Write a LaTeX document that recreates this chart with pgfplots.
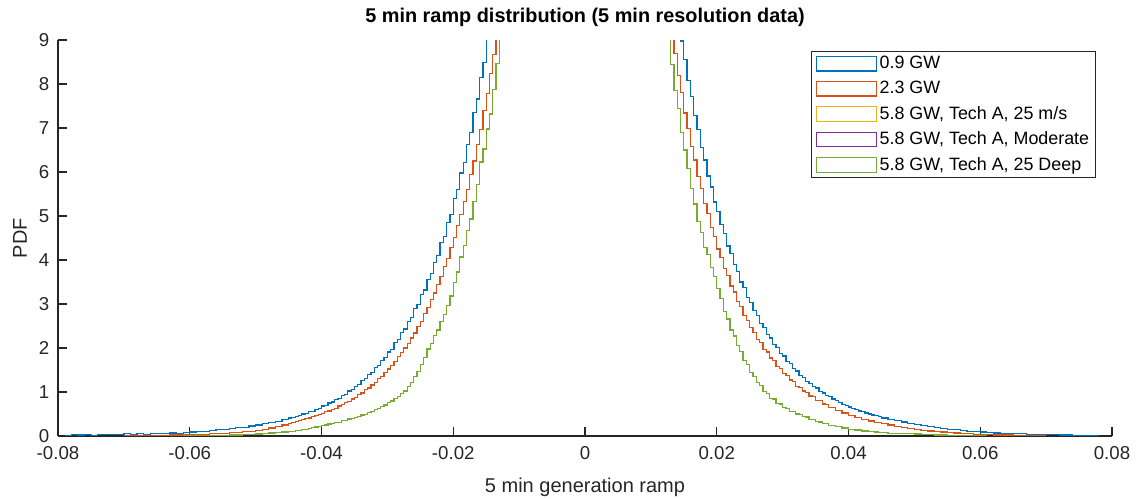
\documentclass[border=0pt]{standalone}
\usepackage{fontspec}
\setmainfont{Liberation Sans}
\usepackage{pgfplots}
\pgfplotsset{compat=1.18}
\usepackage{pgfplotstable}
\definecolor{mblue}{rgb}{0,0.447,0.741}
\definecolor{morange}{rgb}{0.85,0.325,0.098}
\definecolor{myellow}{rgb}{0.929,0.694,0.125}
\definecolor{mpurple}{rgb}{0.494,0.184,0.556}
\definecolor{mgreen}{rgb}{0.466,0.674,0.188}
\definecolor{axgray}{rgb}{0.15,0.15,0.15}

% 0.9 GW, left half (const plot mark left)
\pgfplotstableread[row sep=\\]{x y\\
-0.079 0\\ -0.078 0.03\\ -0.077 0.02\\ -0.076 0.03\\ -0.075 0\\ -0.074 0.04\\ -0.073 0.03\\ -0.072 0.04\\ -0.071 0.03\\ -0.070 0.05\\
-0.069 0.04\\ -0.068 0.05\\ -0.067 0.04\\ -0.066 0.06\\ -0.065 0.05\\ -0.064 0.06\\ -0.063 0.07\\ -0.062 0.06\\ -0.061 0.08\\ -0.060 0.09\\
-0.059 0.10\\ -0.058 0.11\\ -0.057 0.12\\ -0.056 0.14\\ -0.055 0.15\\ -0.054 0.17\\ -0.053 0.19\\ -0.052 0.20\\ -0.051 0.23\\ -0.050 0.25\\
-0.049 0.28\\ -0.048 0.30\\ -0.047 0.33\\ -0.046 0.37\\
-0.0450 0.41\\ -0.0445 0.42\\ -0.0440 0.45\\ -0.0435 0.46\\ -0.0430 0.50\\ -0.0425 0.51\\ -0.0420 0.55\\ -0.0415 0.56\\ -0.0410 0.61\\ -0.0405 0.62\\
-0.0400 0.68\\ -0.0395 0.69\\ -0.0390 0.75\\ -0.0385 0.77\\ -0.0380 0.83\\ -0.0375 0.86\\ -0.0370 0.92\\ -0.0365 0.95\\ -0.0360 1.02\\ -0.0355 1.06\\
-0.0350 1.13\\ -0.0345 1.17\\ -0.0340 1.26\\ -0.0335 1.30\\ -0.0330 1.39\\ -0.0325 1.45\\ -0.0320 1.55\\ -0.0315 1.61\\ -0.0310 1.72\\ -0.0305 1.78\\
-0.0300 1.91\\ -0.0295 1.97\\ -0.0290 2.12\\ -0.0285 2.19\\ -0.0280 2.35\\ -0.0275 2.43\\ -0.0270 2.60\\ -0.0265 2.70\\ -0.0260 2.90\\ -0.0255 2.99\\
-0.0250 3.21\\ -0.0245 3.32\\ -0.0240 3.56\\ -0.0235 3.69\\ -0.0230 3.95\\ -0.0225 4.10\\ -0.0220 4.39\\ -0.0215 4.54\\ -0.0210 4.86\\ -0.0205 5.04\\
-0.0200 5.39\\ -0.0195 5.60\\ -0.0190 5.98\\ -0.0185 6.21\\ -0.0180 6.63\\ -0.0175 6.90\\ -0.0170 7.35\\ -0.0165 7.66\\ -0.0160 8.15\\ -0.0155 8.49\\
-0.0150 9.05\\ -0.0145 9.45\\ -0.0140 10.0\\ -0.0135 10.5\\ -0.0130 11.1\\ -0.0125 11.7\\ -0.0120 12.5\\ -0.0100 16\\ -0.0050 30\\ 0 50\\
}\bL
% 0.9 GW, right half (const plot mark right)
\pgfplotstableread[row sep=\\]{x y\\
0 50\\ 0.0050 30\\ 0.0100 16\\ 0.0120 12.5\\ 0.0125 11.7\\ 0.0130 11.1\\ 0.0135 10.5\\ 0.0140 9.95\\ 0.0145 9.5\\
0.0150 8.98\\ 0.0155 8.56\\ 0.0160 8.08\\ 0.0165 7.72\\ 0.0170 7.28\\ 0.0175 6.96\\ 0.0180 6.56\\ 0.0185 6.27\\ 0.0190 5.91\\ 0.0195 5.66\\
0.0200 5.32\\ 0.0205 5.10\\ 0.0210 4.80\\ 0.0215 4.60\\ 0.0220 4.32\\ 0.0225 4.15\\ 0.0230 3.89\\ 0.0235 3.74\\ 0.0240 3.50\\ 0.0245 3.37\\
0.0250 3.15\\ 0.0255 3.04\\ 0.0260 2.85\\ 0.0265 2.74\\ 0.0270 2.56\\ 0.0275 2.47\\ 0.0280 2.31\\ 0.0285 2.23\\ 0.0290 2.08\\ 0.0295 2.01\\
0.0300 1.88\\ 0.0305 1.82\\ 0.0310 1.69\\ 0.0315 1.64\\ 0.0320 1.53\\ 0.0325 1.48\\ 0.0330 1.38\\ 0.0335 1.33\\ 0.0340 1.24\\ 0.0345 1.20\\
0.0350 1.12\\ 0.0355 1.09\\ 0.0360 1.01\\ 0.0365 0.98\\ 0.0370 0.92\\ 0.0375 0.89\\ 0.0380 0.84\\ 0.0385 0.80\\ 0.0390 0.76\\ 0.0395 0.72\\
0.0400 0.69\\ 0.0405 0.66\\ 0.0410 0.63\\ 0.0415 0.60\\ 0.0420 0.57\\ 0.0425 0.55\\ 0.0430 0.52\\ 0.0435 0.50\\ 0.0440 0.48\\ 0.0445 0.46\\
0.0450 0.44\\ 0.046 0.41\\ 0.047 0.38\\ 0.048 0.35\\ 0.049 0.32\\ 0.050 0.29\\ 0.051 0.26\\ 0.052 0.24\\ 0.053 0.21\\ 0.054 0.19\\
0.055 0.17\\ 0.056 0.15\\ 0.057 0.14\\ 0.058 0.12\\ 0.059 0.11\\ 0.060 0.10\\ 0.061 0.09\\ 0.062 0.08\\ 0.063 0.07\\ 0.064 0.065\\
0.065 0.06\\ 0.066 0.05\\ 0.067 0.05\\ 0.068 0.04\\ 0.069 0.04\\ 0.070 0.035\\ 0.071 0.03\\ 0.072 0.03\\ 0.073 0.02\\ 0.074 0.02\\
0.075 0.01\\ 0.076 0\\ 0.077 0.01\\ 0.078 0\\
}\bR
% 2.3 GW, left half
\pgfplotstableread[row sep=\\]{x y\\
-0.070 0\\ -0.069 0.005\\ -0.068 0.005\\ -0.067 0.01\\ -0.066 0.01\\ -0.065 0.015\\ -0.064 0.015\\ -0.063 0.02\\ -0.062 0.02\\ -0.061 0.025\\
-0.060 0.03\\ -0.059 0.035\\ -0.058 0.04\\ -0.057 0.05\\ -0.056 0.055\\ -0.055 0.065\\ -0.054 0.075\\ -0.053 0.085\\ -0.052 0.10\\ -0.051 0.11\\
-0.050 0.13\\ -0.049 0.15\\ -0.048 0.18\\ -0.047 0.21\\ -0.046 0.25\\
-0.0450 0.29\\ -0.0445 0.31\\ -0.0440 0.33\\ -0.0435 0.36\\ -0.0430 0.37\\ -0.0425 0.40\\ -0.0420 0.41\\ -0.0415 0.44\\ -0.0410 0.46\\ -0.0405 0.49\\
-0.0400 0.51\\ -0.0395 0.55\\ -0.0390 0.57\\ -0.0385 0.61\\ -0.0380 0.63\\ -0.0375 0.68\\ -0.0370 0.71\\ -0.0365 0.76\\ -0.0360 0.79\\ -0.0355 0.84\\
-0.0350 0.88\\ -0.0345 0.94\\ -0.0340 0.98\\ -0.0335 1.05\\ -0.0330 1.09\\ -0.0325 1.16\\ -0.0320 1.22\\ -0.0315 1.30\\ -0.0310 1.36\\ -0.0305 1.45\\
-0.0300 1.52\\ -0.0295 1.61\\ -0.0290 1.69\\ -0.0285 1.80\\ -0.0280 1.89\\ -0.0275 2.00\\ -0.0270 2.10\\ -0.0265 2.23\\ -0.0260 2.34\\ -0.0255 2.49\\
-0.0250 2.61\\ -0.0245 2.78\\ -0.0240 2.92\\ -0.0235 3.10\\ -0.0230 3.25\\ -0.0225 3.45\\ -0.0220 3.63\\ -0.0215 3.85\\ -0.0210 4.04\\ -0.0205 4.29\\
-0.0200 4.51\\ -0.0195 4.78\\ -0.0190 5.03\\ -0.0185 5.33\\ -0.0180 5.61\\ -0.0175 5.94\\ -0.0170 6.25\\ -0.0165 6.62\\ -0.0160 6.97\\ -0.0155 7.39\\
-0.0150 7.78\\ -0.0145 8.24\\ -0.0140 8.67\\ -0.0135 9.2\\ -0.0130 9.7\\ -0.0125 10.2\\ -0.0120 11\\ -0.0100 14\\ -0.0050 28\\ 0 45\\
}\oL
% 2.3 GW, right half
\pgfplotstableread[row sep=\\]{x y\\
0 45\\ 0.0050 28\\ 0.0100 14\\ 0.0120 11\\ 0.0125 10.2\\ 0.0130 9.7\\ 0.0135 9.15\\ 0.0140 8.69\\ 0.0145 8.19\\
0.0150 7.80\\ 0.0155 7.34\\ 0.0160 6.99\\ 0.0165 6.58\\ 0.0170 6.27\\ 0.0175 5.90\\ 0.0180 5.63\\ 0.0185 5.29\\ 0.0190 5.05\\ 0.0195 4.74\\
0.0200 4.53\\ 0.0205 4.25\\ 0.0210 4.06\\ 0.0215 3.81\\ 0.0220 3.65\\ 0.0225 3.41\\ 0.0230 3.27\\ 0.0235 3.06\\ 0.0240 2.94\\ 0.0245 2.74\\
0.0250 2.63\\ 0.0255 2.46\\ 0.0260 2.36\\ 0.0265 2.20\\ 0.0270 2.12\\ 0.0275 1.97\\ 0.0280 1.91\\ 0.0285 1.77\\ 0.0290 1.71\\ 0.0295 1.58\\
0.0300 1.54\\ 0.0305 1.42\\ 0.0310 1.38\\ 0.0315 1.27\\ 0.0320 1.24\\ 0.0325 1.13\\ 0.0330 1.11\\ 0.0335 1.02\\ 0.0340 0.99\\ 0.0345 0.91\\
0.0350 0.89\\ 0.0355 0.81\\ 0.0360 0.80\\ 0.0365 0.73\\ 0.0370 0.72\\ 0.0375 0.65\\ 0.0380 0.64\\ 0.0385 0.58\\ 0.0390 0.58\\ 0.0395 0.52\\
0.0400 0.52\\ 0.0405 0.47\\ 0.0410 0.47\\ 0.0415 0.42\\ 0.0420 0.42\\ 0.0425 0.38\\ 0.0430 0.38\\ 0.0435 0.34\\ 0.0440 0.34\\ 0.0445 0.31\\
0.0450 0.30\\ 0.046 0.28\\ 0.047 0.25\\ 0.048 0.22\\ 0.049 0.19\\ 0.050 0.17\\ 0.051 0.15\\ 0.052 0.13\\ 0.053 0.115\\ 0.054 0.10\\
0.055 0.09\\ 0.056 0.08\\ 0.057 0.07\\ 0.058 0.06\\ 0.059 0.05\\ 0.060 0.04\\ 0.061 0.035\\ 0.062 0.03\\ 0.063 0.025\\ 0.064 0.02\\
0.065 0.02\\ 0.066 0.015\\ 0.067 0.01\\ 0.068 0.01\\ 0.069 0.005\\ 0.070 0\\
}\oR
% 5.8 GW, left half
\pgfplotstableread[row sep=\\]{x y\\
-0.061 0\\ -0.060 0.005\\ -0.059 0.005\\ -0.058 0.008\\ -0.057 0.01\\ -0.056 0.01\\ -0.055 0.015\\ -0.054 0.02\\ -0.053 0.025\\ -0.052 0.03\\
-0.051 0.04\\ -0.050 0.045\\ -0.049 0.055\\ -0.048 0.07\\ -0.047 0.08\\ -0.046 0.09\\
-0.0450 0.10\\ -0.0445 0.11\\ -0.0440 0.12\\ -0.0435 0.13\\ -0.0430 0.145\\ -0.0425 0.155\\ -0.0420 0.175\\ -0.0415 0.185\\ -0.0410 0.205\\ -0.0405 0.215\\
-0.0400 0.245\\ -0.0395 0.25\\ -0.0390 0.275\\ -0.0385 0.28\\ -0.0380 0.305\\ -0.0375 0.315\\ -0.0370 0.345\\ -0.0365 0.355\\ -0.0360 0.385\\ -0.0355 0.395\\
-0.0350 0.425\\ -0.0345 0.435\\ -0.0340 0.475\\ -0.0335 0.495\\ -0.0330 0.535\\ -0.0325 0.555\\ -0.0320 0.605\\ -0.0315 0.625\\ -0.0310 0.675\\ -0.0305 0.705\\
-0.0300 0.755\\ -0.0295 0.795\\ -0.0290 0.855\\ -0.0285 0.895\\ -0.0280 0.965\\ -0.0275 1.02\\ -0.0270 1.13\\ -0.0265 1.21\\ -0.0260 1.36\\ -0.0255 1.46\\
-0.0250 1.63\\ -0.0245 1.79\\ -0.0240 1.98\\ -0.0235 2.11\\ -0.0230 2.28\\ -0.0225 2.41\\ -0.0220 2.61\\ -0.0215 2.76\\ -0.0210 2.97\\ -0.0205 3.18\\
-0.0200 3.49\\ -0.0195 3.73\\ -0.0190 4.07\\ -0.0185 4.33\\ -0.0180 4.67\\ -0.0175 4.93\\ -0.0170 5.33\\ -0.0165 5.72\\ -0.0160 6.23\\ -0.0155 6.52\\
-0.0150 6.98\\ -0.0145 7.32\\ -0.0140 7.88\\ -0.0135 8.47\\ -0.0130 9.30\\ -0.0125 10.5\\ -0.0120 11.5\\ -0.0100 15\\ -0.0050 30\\ 0 50\\
}\gL
% 5.8 GW, right half
\pgfplotstableread[row sep=\\]{x y\\
0 50\\ 0.0050 30\\ 0.0100 15\\ 0.0120 11.5\\ 0.0125 10.5\\ 0.0130 9.3\\ 0.0135 8.45\\ 0.0140 7.85\\ 0.0145 7.45\\
0.0150 6.90\\ 0.0155 6.50\\ 0.0160 6.08\\ 0.0165 5.62\\ 0.0170 5.27\\ 0.0175 4.88\\ 0.0180 4.62\\ 0.0185 4.28\\ 0.0190 4.12\\ 0.0195 3.83\\
0.0200 3.62\\ 0.0205 3.35\\ 0.0210 3.12\\ 0.0215 2.83\\ 0.0220 2.66\\ 0.0225 2.41\\ 0.0230 2.27\\ 0.0235 2.05\\ 0.0240 1.92\\ 0.0245 1.72\\
0.0250 1.62\\ 0.0255 1.45\\ 0.0260 1.36\\ 0.0265 1.21\\ 0.0270 1.14\\ 0.0275 1.01\\ 0.0280 0.97\\ 0.0285 0.86\\ 0.0290 0.84\\ 0.0295 0.74\\
0.0300 0.73\\ 0.0305 0.64\\ 0.0310 0.63\\ 0.0315 0.56\\ 0.0320 0.56\\ 0.0325 0.50\\ 0.0330 0.49\\ 0.0335 0.44\\ 0.0340 0.43\\ 0.0345 0.38\\
0.0350 0.37\\ 0.0355 0.33\\ 0.0360 0.32\\ 0.0365 0.28\\ 0.0370 0.28\\ 0.0375 0.24\\ 0.0380 0.24\\ 0.0385 0.21\\ 0.0390 0.21\\ 0.0395 0.18\\
0.0400 0.18\\ 0.0405 0.155\\ 0.0410 0.155\\ 0.0415 0.135\\ 0.0420 0.135\\ 0.0425 0.115\\ 0.0430 0.115\\ 0.0435 0.10\\ 0.0440 0.10\\ 0.0445 0.09\\
0.0450 0.085\\ 0.046 0.075\\ 0.047 0.065\\ 0.048 0.06\\ 0.049 0.055\\ 0.050 0.05\\ 0.051 0.045\\ 0.052 0.04\\ 0.053 0.03\\ 0.054 0.025\\
0.055 0.02\\ 0.056 0.015\\ 0.057 0.01\\ 0.058 0.008\\ 0.059 0.005\\ 0.060 0.005\\ 0.061 0\\
}\gR

\begin{document}
\begin{tikzpicture}
\useasboundingbox (-43.5pt,-47.25pt) rectangle (810pt,327pt);
\begin{axis}[
  at={(0pt,0pt)}, anchor=south west,
  scale only axis, width=790.5pt, height=297pt,
  xmin=-0.08, xmax=0.08, ymin=0, ymax=9,
  axis x line*=bottom, axis y line*=left,
  axis line style={axgray, line width=0.8pt, -},
  tick align=inside,
  major tick length=7pt,
  tick style={axgray, line width=0.8pt},
  xtick={-0.08,-0.06,-0.04,-0.02,0,0.02,0.04,0.06,0.08},
  ytick={0,1,2,3,4,5,6,7,8,9},
  scaled x ticks=false,
  /pgf/number format/assume math mode=true,
  xticklabel style={/pgf/number format/fixed, /pgf/number format/precision=2,
    font=\fontsize{14}{16}\selectfont, text=axgray, anchor=north, yshift=-4pt},
  yticklabel style={font=\fontsize{14}{16}\selectfont, text=axgray, anchor=east, xshift=-3pt},
  title={5 min ramp distribution (5 min resolution data)},
  every axis title shift=0pt,
  title style={font=\bfseries\fontsize{14.9}{17}\selectfont, text=black,
    at={(axis description cs:0.5,1.057)}, anchor=center},
  xlabel={5 min generation ramp},
  xlabel style={font=\fontsize{15}{17}\selectfont, text=axgray,
    at={(axis description cs:0.5,-0.1296)}, anchor=center},
  ylabel={PDF},
  ylabel style={font=\fontsize{15}{17}\selectfont, text=axgray,
    at={(axis description cs:-0.036,0.5)}, anchor=center},
  legend image code/.code={\draw[#1, line width=0.8pt] (0pt,-5.5pt) rectangle (45pt,5.5pt);},
  legend cell align=left,
  legend style={at={(0.985,0.973)}, anchor=north east, draw=axgray, line width=0.6pt,
    fill=white, font=\fontsize{13.4}{15}\selectfont, text=black,
    inner xsep=3pt, inner ysep=2pt, row sep=3.9pt,
    /tikz/every even column/.append style={column sep=0pt}},
  every axis plot/.append style={line width=0.95pt},
]
\addplot[mblue, const plot mark left] table {\bL};
\addlegendentry{0.9 GW}
\addplot[mblue, const plot mark right, forget plot] table {\bR};
\addplot[morange, const plot mark left] table {\oL};
\addlegendentry{2.3 GW}
\addplot[morange, const plot mark right, forget plot] table {\oR};
\addplot[myellow, const plot mark left] table {\gL};
\addlegendentry{5.8 GW, Tech A, 25 m/s}
\addplot[myellow, const plot mark right, forget plot] table {\gR};
\addplot[mpurple, const plot mark left] table {\gL};
\addlegendentry{5.8 GW, Tech A, Moderate}
\addplot[mpurple, const plot mark right, forget plot] table {\gR};
\addplot[mgreen, const plot mark left] table {\gL};
\addlegendentry{5.8 GW, Tech A, 25 Deep}
\addplot[mgreen, const plot mark right, forget plot] table {\gR};
\end{axis}
\end{tikzpicture}
\end{document}
